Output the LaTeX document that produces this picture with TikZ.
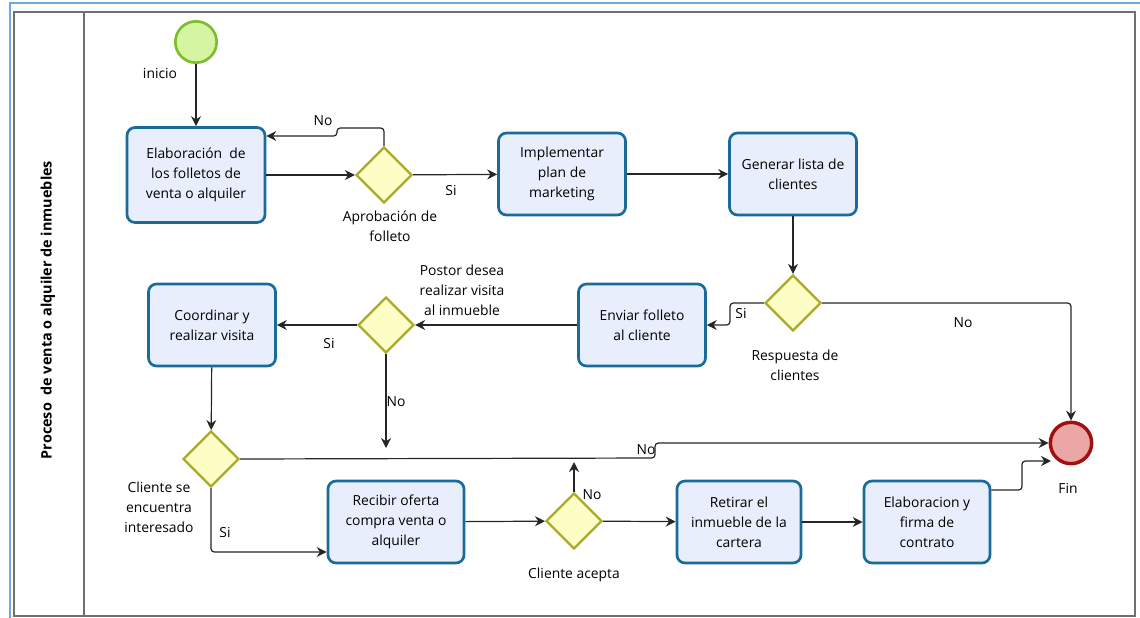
\documentclass[tikz,border=0pt]{standalone}
\usepackage{fontspec}
\setmainfont{Open Sans}
\usetikzlibrary{shapes.geometric,arrows.meta}
\definecolor{taskfill}{HTML}{E8EEFB}
\definecolor{taskline}{HTML}{1B6B9A}
\definecolor{gwfill}{HTML}{FDFDC6}
\definecolor{gwline}{HTML}{ABAB2A}
\definecolor{startfill}{HTML}{D6F5A2}
\definecolor{startline}{HTML}{7DBE2E}
\definecolor{endfill}{HTML}{EBA6A6}
\definecolor{endline}{HTML}{A30F0F}
\definecolor{frameblue}{HTML}{6FA8DC}
\definecolor{framegray}{HTML}{707070}
\tikzset{
  txt/.style={font=\fontsize{10.4pt}{15pt}\selectfont, align=center, text=black},
  task/.style={txt, draw=taskline, fill=taskfill, line width=2pt, rounded corners=6pt,
    inner sep=0pt, minimum width=95.25pt, minimum height=61.5pt},
  gw/.style={diamond, aspect=1, draw=gwline, fill=gwfill, line width=1.8pt,
    inner sep=0pt, minimum width=42pt, minimum height=42pt},
  startev/.style={circle, draw=startline, fill=startfill, line width=2pt,
    inner sep=0pt, minimum size=31pt},
  endev/.style={circle, draw=endline, fill=endfill, line width=2.6pt,
    inner sep=0pt, minimum size=31pt},
  lbl/.style={txt, inner sep=0pt},
  flow/.style={draw=black!85, line width=0.9pt, rounded corners=2.5pt,
    -{Stealth[length=7.5pt,width=7.5pt,inset=2.5pt]}},
}
\begin{document}
\begin{tikzpicture}[x=0.75pt,y=-0.75pt]
\useasboundingbox (0,0) rectangle (1140,618);
% pool frame and lane
\draw[frameblue, line width=1.5pt] (10,618) -- (10,2.5) -- (1140,2.5);
\draw[framegray, line width=1.6pt] (14,12) rectangle (1135,616);
\draw[framegray, line width=1.6pt] (84,12) -- (84,616);
\node[rotate=90, font=\bfseries\fontsize{10.8pt}{12pt}\selectfont] (lane) at (48,310)
  {Proceso\ \ de venta o alquiler de inmuebles};

% events
\node[startev] (s) at (196,42) {};
\node[lbl] (ls) at (160,73) {inicio};
\node[endev] (f) at (1071,443) {};
\node[lbl] (lf) at (1068,488) {Fin};

% tasks
\node[task, minimum width=103.5pt, minimum height=71.25pt] (t1) at (196,175)
  {Elaboración\ \ de\\los folletos de\\venta o alquiler};
\node[task] (t2) at (562,174) {Implementar\\plan de\\marketing};
\node[task] (t3) at (793,174) {Generar lista de\\clientes};
\node[task] (t4) at (642,325) {Enviar folleto\\al cliente};
\node[task] (t5) at (212,325) {Coordinar y\\realizar visita};
\node[task, minimum width=102pt] (t6) at (396,522) {Recibir oferta\\compra venta o\\alquiler};
\node[task, minimum width=93pt] (t7) at (739,522) {Retirar el\\inmueble de la\\cartera};
\node[task, minimum width=94.5pt] (t8) at (927,522) {Elaboracion y\\firma de\\contrato};

% gateways
\node[gw] (g1) at (384,175) {};
\node[lbl] (lg1) at (390,226) {Aprobación de\\folleto};
\node[gw] (g2) at (386,325) {};
\node[lbl] (lg2) at (462,290) {Postor desea\\realizar visita\\al inmueble};
\node[gw] (g3) at (793,303) {};
\node[lbl] (lg3) at (795,365) {Respuesta de\\clientes};
\node[gw] (g4) at (211,459) {};
\node[lbl] (lg4) at (159,507) {Cliente se\\encuentra\\interesado};
\node[gw] (g5) at (574,521) {};
\node[lbl] (lg5) at (574,575) {Cliente acepta};

% free ends
\coordinate (e2) at (386,448);
\coordinate (e5) at (574,462);
\coordinate (fin2) at (1051,461);

% sequence flows
\draw[flow] (s) -- (t1);
\draw[flow] (t1) -- (g1);
\draw[flow] (g1.north) |- (337,128) |- (t1.east |- 0,136);
\draw[flow] (g1) -- (t2);
\draw[flow] (t2) -- (t3);
\draw[flow] (t3) -- (g3);
\draw[flow] (g3.west) -- (730,303) |- (t4.east);
\draw[flow] (g3.east) -| (f.north);
\draw[flow] (t4) -- (g2);
\draw[flow] (g2) -- (t5);
\draw[flow] (g2.south) -- (e2);
\draw[flow] (t5) -- (g4);
\draw[flow] (g4.east) -- (655,458) |- (f.west);
\draw[flow] (g4.south) |- (t6.west |- 0,552);
\draw[flow] (t6) -- (g5);
\draw[flow] (g5.north) -- (e5);
\draw[flow] (g5) -- (t7);
\draw[flow] (t7) -- (t8);
\draw[flow] (t8.east |- 0,490) -- (1022,490) |- (fin2);

% flow labels
\node[lbl] (n1) at (323,121) {No};
\node[lbl] (y1) at (451,190) {Si};
\node[lbl] (y3) at (741,313) {Si};
\node[lbl] (n3) at (963,323) {No};
\node[lbl] (y2) at (329,343) {Si};
\node[lbl] (n2) at (396,402) {No};
\node[lbl] (n4) at (646,450) {No};
\node[lbl] (y4) at (225,532) {Si};
\node[lbl] (n5) at (592,495) {No};
\end{tikzpicture}
\end{document}
